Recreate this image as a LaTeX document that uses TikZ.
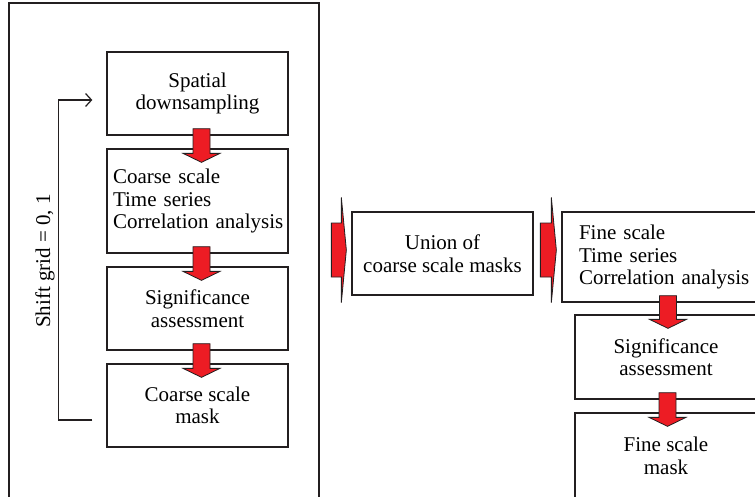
\documentclass[tikz,border=0pt]{standalone}
\usepackage{fontspec}
\setmainfont{Liberation Serif}
\usetikzlibrary{calc,arrows.meta}
\definecolor{boxline}{HTML}{231F20}
\definecolor{arrred}{HTML}{ED1C24}
\tikzset{
  box/.style={draw=boxline, line width=1.3pt, rectangle, minimum width=181pt, minimum height=83pt,
              inner sep=0pt, align=center, font=\fontsize{21}{22.5}\selectfont},
  leftbox/.style={box, align=left, text width=#1},
  blockarrow/.style={fill=arrred, draw=boxline, line width=0.8pt, line join=miter},
  feedback/.style={draw=boxline, line width=1.2pt, -{Straight Barb[length=6pt,width=13pt,line width=1.2pt]}},
}
\newcommand\downarr[3]{%
  \draw[blockarrow] let \p1=($(#1.south)+(#3,0)$), \p2=(#2.north) in
    (\x1-8.5pt,\y1+7pt) -- (\x1+8.5pt,\y1+7pt) -- (\x1+8.5pt,\y2-5pt) -- (\x1+18.5pt,\y2-5pt)
    -- (\x1,\y2-14pt) -- (\x1-18.5pt,\y2-5pt) -- (\x1-8.5pt,\y2-5pt) -- cycle;}
% #1 node, #2 x offset of shaft start, #3 y offset (canvas) of arrow centre
\newcommand\rightarr[3]{%
  \draw[blockarrow] let \p1=($(#1.west)$) in
    (\x1+#2pt,\y1+#3pt+27pt) -- (\x1-10pt,\y1+#3pt+27pt) -- (\x1-10pt,\y1+#3pt+52.5pt)
    -- (\x1-5pt,\y1+#3pt) -- (\x1-10pt,\y1+#3pt-52.5pt) -- (\x1-10pt,\y1+#3pt-27pt)
    -- (\x1+#2pt,\y1+#3pt-27pt) -- cycle;}
\begin{document}
\begin{tikzpicture}[x=1pt,y=-1pt]
\useasboundingbox (0,0) rectangle (755,496);
\fill[white] (0,0) rectangle (755,496);
% outer frame (open at bottom)
\draw[boxline, line width=1.3pt] (9,500) -- (9,3) -- (319,3) -- (319,500);
% left column
\node[box] (b1) at (197.5,93.5) {Spatial\\downsampling};
\node[leftbox=169pt, inner xsep=6pt, minimum height=104pt] (b2) at (197.5,201)
  {Coarse scale\\Time series\\\mbox{Correlation analysis}};
\node[box] (b3) at (197.5,308.5) {Significance\\assessment};
\node[box] (b4) at (197.5,405.5) {Coarse scale\\mask};
\downarr{b1}{b2}{4}
\downarr{b2}{b3}{4}
\downarr{b3}{b4}{4}
% feedback loop
\coordinate (fbstart) at ($(b4.west)+(-14,14.5)$);
\coordinate (fbend) at ($(b1.west)+(-14,6.5)$);
\draw[feedback] (fbstart) -- ++(-34,0) |- (fbend);
\node[rotate=90, font=\fontsize{21}{22.5}\selectfont, inner sep=0pt] (shift) at (45,261) {Shift grid = 0, 1};
% middle
\node[box] (union) at (442.5,253.5) {Union of\\coarse scale masks};
\rightarr{union}{-20}{3.5}
% right column
\node[leftbox=175pt, inner xsep=17pt, minimum height=90pt] (f1) at (666.5,257)
  {Fine scale\\Time series\\\mbox{Correlation analysis}};
\node[box, minimum width=182pt, minimum height=84pt] (f2) at (666,357) {Significance\\assessment};
\node[box, minimum width=182pt, minimum height=86pt] (f3) at (666,456) {Fine scale\\mask};
\rightarr{f1}{-21}{7}
\downarr{f1}{f2}{1.5}
\downarr{f2}{f3}{1.5}
\end{tikzpicture}
\end{document}
